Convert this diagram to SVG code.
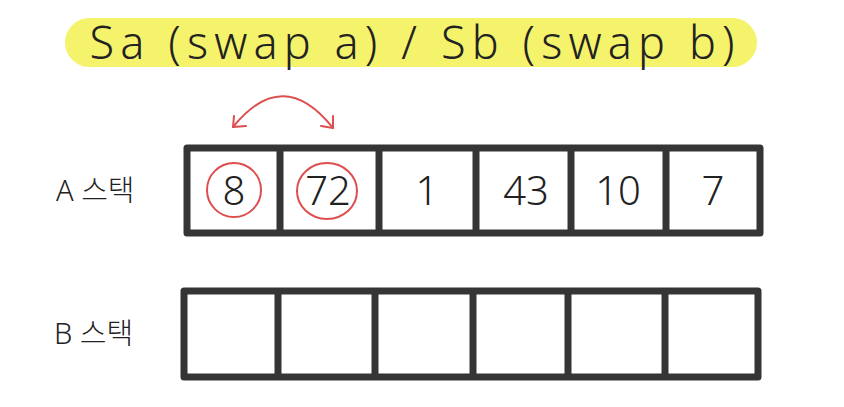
<svg xmlns="http://www.w3.org/2000/svg" width="844" height="407" viewBox="0 0 844 407">
<style>
.frame{fill:#fff;stroke:#353535;stroke-width:7;stroke-linejoin:round}
.div{stroke:#353535;stroke-width:7}
.num{font-family:"Noto Sans","Liberation Sans",sans-serif;font-size:40px;fill:#222;text-anchor:middle;font-weight:300}
.lbl{font-family:"Noto Sans","Noto Sans CJK KR",sans-serif;font-size:29px;fill:#222;font-weight:300}
.ring{fill:none;stroke:#dd4f4f;stroke-width:2}
.arc{fill:none;stroke:#dd4f4f;stroke-width:2;stroke-linecap:round;stroke-linejoin:round}
</style>
<rect width="844" height="407" fill="#fff"/>
<g id="title">
<rect x="65" y="18" width="692" height="49" rx="24.5" fill="#f5f36c"/>
<text x="412" y="59" font-family="Noto Sans, Liberation Sans, sans-serif" font-size="45" font-weight="300" fill="#222" text-anchor="middle" textLength="645" lengthAdjust="spacing">Sa (swap a) / Sb (swap b)</text>
</g>
<g id="labelA"><text class="lbl" x="56" y="201">A 스택</text></g>
<g id="labelB"><text class="lbl" x="54" y="344">B 스택</text></g>
<g id="stackA">
<rect class="frame" x="187" y="148" width="573" height="85"/>
<line class="div" x1="280" y1="148" x2="280" y2="233"/>
<line class="div" x1="379" y1="148" x2="379" y2="233"/>
<line class="div" x1="476" y1="148" x2="476" y2="233"/>
<line class="div" x1="571" y1="148" x2="571" y2="233"/>
<line class="div" x1="666" y1="148" x2="666" y2="233"/>
<text class="num" x="234" y="205">8</text>
<text class="num" x="328" y="205">72</text>
<text class="num" x="427" y="205">1</text>
<text class="num" x="526" y="205">43</text>
<text class="num" x="618" y="205">10</text>
<text class="num" x="713" y="205">7</text>
</g>
<g id="stackB">
<rect class="frame" x="184" y="291" width="574" height="86"/>
<line class="div" x1="278" y1="291" x2="278" y2="377"/>
<line class="div" x1="375" y1="291" x2="375" y2="377"/>
<line class="div" x1="473" y1="291" x2="473" y2="377"/>
<line class="div" x1="568" y1="291" x2="568" y2="377"/>
<line class="div" x1="665" y1="291" x2="665" y2="377"/>
</g>
<g id="highlights">
<circle class="ring" cx="234" cy="190" r="27"/>
<ellipse class="ring" cx="327" cy="191" rx="30" ry="28"/>
</g>
<g id="connectors">
<path class="arc" d="M233 127 Q283 65 333 128"/>
<path class="arc" d="M234 116 L233 127 L246 126"/>
<path class="arc" d="M333 116 L333 128 L321 126"/>
</g>
</svg>
